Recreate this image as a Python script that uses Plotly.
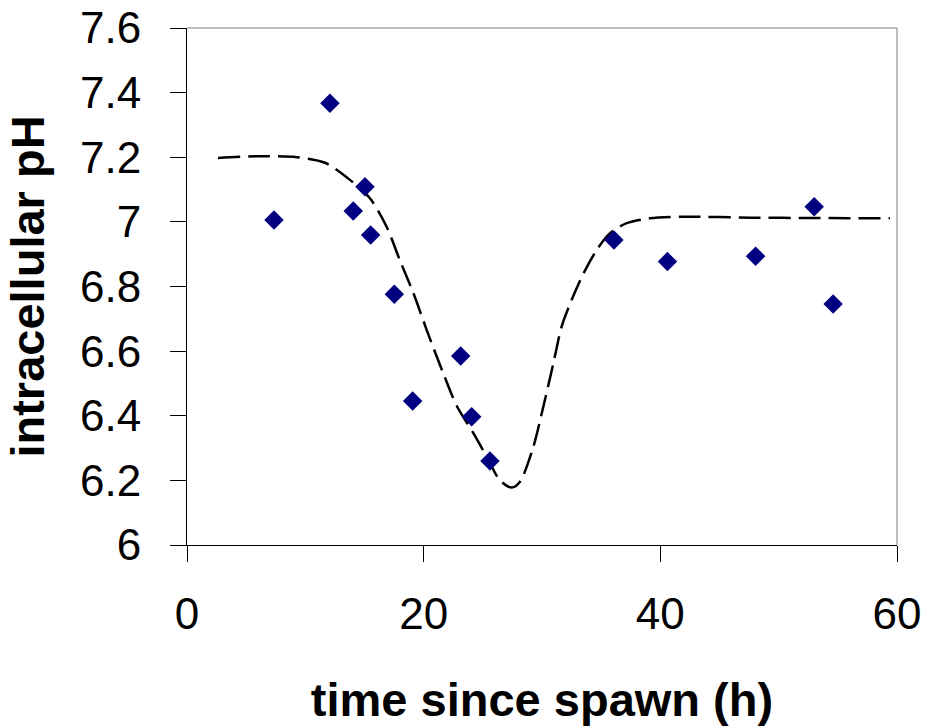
import plotly.graph_objects as go

# measured data points (time since spawn in h, intracellular pH)
obs_time = [7.35, 12.08, 14.05, 15.04, 15.52, 17.52, 19.07, 23.13, 24.06, 25.6,
            36.08, 40.6, 48.05, 53.0, 54.6]
obs_ph = [7.006, 7.367, 7.034, 7.109, 6.959, 6.776, 6.446, 6.585, 6.397, 6.26,
          6.944, 6.877, 6.894, 7.047, 6.746]

# fitted (dashed) curve
fit_time = [2.62, 6.0, 9.27, 11.66, 13.77, 15.46, 16.87, 18.0, 19.13, 20.26, 21.67,
            22.8, 24.2, 25.33, 26.45, 27.44, 28.14, 29.27, 30.11, 30.96, 31.66,
            32.5, 33.5, 34.62, 35.75, 37.16, 39.1, 41.94, 47.6, 53.0, 59.4]
fit_ph = [7.198, 7.203, 7.20, 7.183, 7.13, 7.073, 6.985, 6.88, 6.78, 6.665, 6.53,
          6.43, 6.346, 6.273, 6.20, 6.178, 6.196, 6.304, 6.428, 6.562, 6.676,
          6.758, 6.84, 6.913, 6.965, 6.996, 7.011, 7.016, 7.013, 7.012, 7.011]

x_ticks = [0, 20, 40, 60]
y_ticks = [6, 6.2, 6.4, 6.6, 6.8, 7, 7.2, 7.4, 7.6]
y_tick_text = ["6", "6.2", "6.4", "6.6", "6.8", "7", "7.2", "7.4", "7.6"]

FONT = "Liberation Sans, Arial, sans-serif"

fig = go.Figure()
fig.add_trace(go.Scatter(
    x=fit_time, y=fit_ph, mode="lines",
    line=dict(color="black", width=2.5, dash="22px,8px", shape="spline", smoothing=0.8),
    hoverinfo="skip", showlegend=False,
))
fig.add_trace(go.Scatter(
    x=obs_time, y=obs_ph, mode="markers",
    marker=dict(symbol="diamond", size=15, color="#000080", line=dict(width=0)),
    showlegend=False,
))

fig.update_layout(
    width=930, height=726,
    margin=dict(l=187, r=33, t=28, b=181, autoexpand=False),
    paper_bgcolor="white", plot_bgcolor="white",
    font=dict(family=FONT, color="black"),
    shapes=[dict(type="path", xref="paper", yref="paper",
                 path="M 0 1 L 1 1 L 1 0", line=dict(color="#808080", width=1))],
)
fig.update_xaxes(
    range=[0, 60], tickvals=x_ticks, ticks="outside", ticklen=16, tickwidth=1,
    tickcolor="black", showline=True, linecolor="black", linewidth=1,
    showgrid=False, zeroline=False, tickfont=dict(size=44, family=FONT),
    ticklabelstandoff=14, automargin=False, ticklabeloverflow="allow",
    title=dict(text="<b>time since spawn (h)</b>", font=dict(size=47, family=FONT),
               standoff=56),
)
fig.update_yaxes(
    range=[6, 7.6], tickvals=y_ticks, ticktext=y_tick_text, ticks="outside",
    ticklen=16, tickwidth=1, tickcolor="black", showline=True, linecolor="black",
    linewidth=1, showgrid=False, zeroline=False, automargin=False,
    ticklabeloverflow="allow",
    tickfont=dict(size=44, family=FONT), ticklabelstandoff=20,
    title=dict(text="<b>intracellular pH</b>", font=dict(size=47, family=FONT),
               standoff=20),
)

# remove the browser's default body margin so the figure sits at the page origin
fig.write_html("out.html", config={"displayModeBar": False},
               post_script="document.body.style.margin='0';")
